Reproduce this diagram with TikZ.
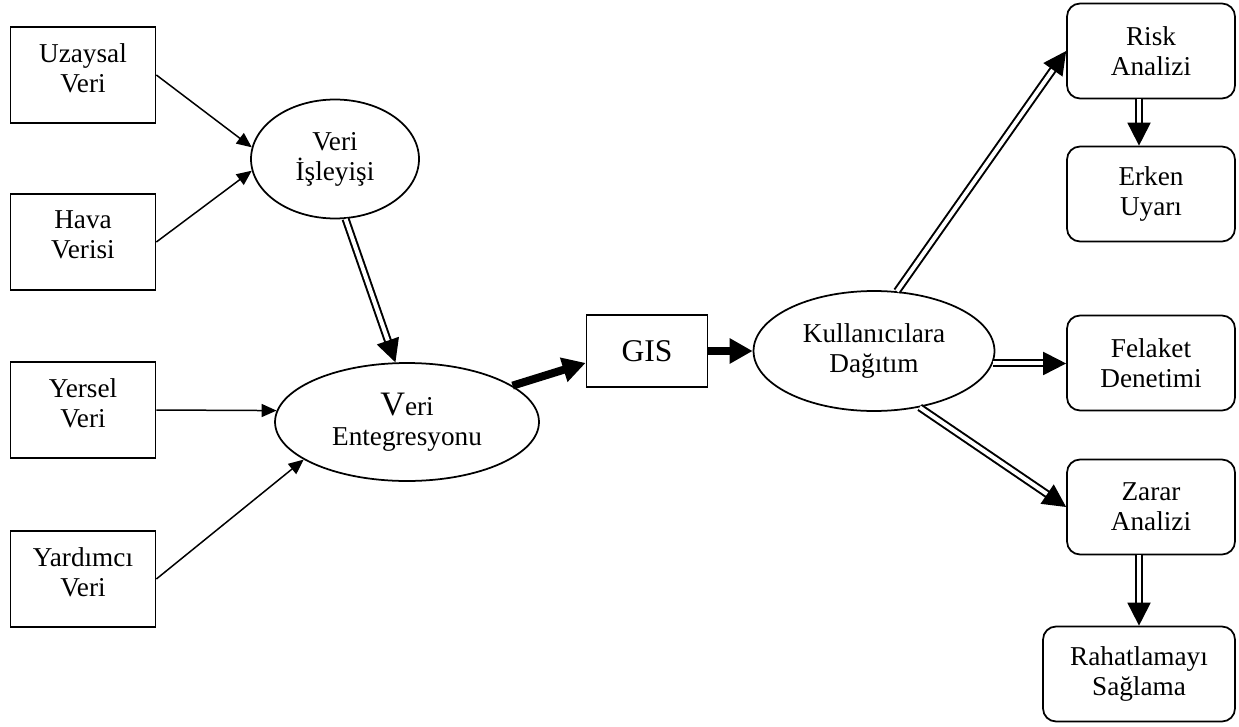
\documentclass[tikz,border=0pt]{standalone}
\usepackage{fontspec}
\setmainfont{Liberation Serif}
\usetikzlibrary{arrows.meta,shapes.geometric}

\begin{document}
\begin{tikzpicture}[x=0.02cm,y=-0.02cm,
    txt/.style={align=center,font=\fontsize{15.5}{17}\selectfont},
    box/.style={txt,draw,line width=0.35mm,minimum width=2.9cm,minimum height=1.92cm},
    srcbox/.style={box,text depth=8pt},
    rbox/.style={txt,draw,line width=0.35mm,rounded corners=2.6mm,minimum width=3.36cm,minimum height=1.9cm},
    oval/.style={txt,draw,ellipse,line width=0.35mm,inner sep=0pt},
    thin/.style={line width=0.3mm,-{Triangle[length=3mm,width=2.6mm]}},
    dbl/.style={double,double distance=0.8mm,line width=0.4mm,-{Triangle[length=4.6mm,width=4.6mm]}},
    thick/.style={line width=1.6mm,-{Triangle[length=4.6mm,width=4.8mm]}}]
    \useasboundingbox (0,0) rectangle (1239,726);

    \node[srcbox] (uzaysal) at (83,75) {Uzaysal\\Veri};
    \node[srcbox] (hava) at (83,242) {Hava\\Verisi};
    \node[srcbox] (yersel) at (83,410) {Yersel\\Veri};
    \node[srcbox] (yardimci) at (83,579) {Yardımcı\\Veri};

    \node[oval,minimum width=3.36cm,minimum height=2.38cm] (isleyis) at (335,159) {Veri\\İşleyişi};
    \node[oval,minimum width=5.28cm,minimum height=2.36cm] (entegr) at (407,422) {{\fontsize{19.5}{17}\selectfont V}eri\\Entegresyonu};
    \node[box,font=\fontsize{18}{20}\selectfont,minimum width=2.42cm,minimum height=1.44cm] (gis) at (647,351) {GIS};
    \node[oval,minimum width=4.82cm,minimum height=2.4cm] (dagitim) at (874,351) {Kullanıcılara\\Dağıtım};

    \node[rbox] (risk) at (1151,51) {Risk\\Analizi};
    \node[rbox] (erken) at (1151,194) {Erken\\Uyarı};
    \node[rbox] (felaket) at (1151,363) {Felaket\\Denetimi};
    \node[rbox] (zarar) at (1151,507) {Zarar\\Analizi};
    \node[rbox,minimum width=3.84cm] (rahat) at (1139,674) {Rahatlamayı\\Sağlama};

    \draw[thin] (uzaysal.east) -- (isleyis.172);
    \draw[thin] (hava.east) -- (isleyis.188);
    \draw[thin] (yersel.east) -- (entegr.175);
    \draw[thin] (yardimci.east) -- (entegr.200);
    \draw[dbl] (isleyis.280) -- (entegr.101);
    \draw[thick] (entegr.19) -- (gis.191);
    \draw[thick] (gis.east) -- (dagitim.west);
    \draw[dbl] (dagitim.69) -- (risk.west);
    \draw[dbl] (dagitim.-6) -- (felaket.west |- dagitim.-6);
    \draw[dbl] (dagitim.-51) -- (zarar.west);
    \draw[dbl] ([xshift=-0.24cm]risk.south) -- ([xshift=-0.24cm]erken.north);
    \draw[dbl] (zarar.south -| rahat.north) -- (rahat.north);
\end{tikzpicture}
\end{document}
